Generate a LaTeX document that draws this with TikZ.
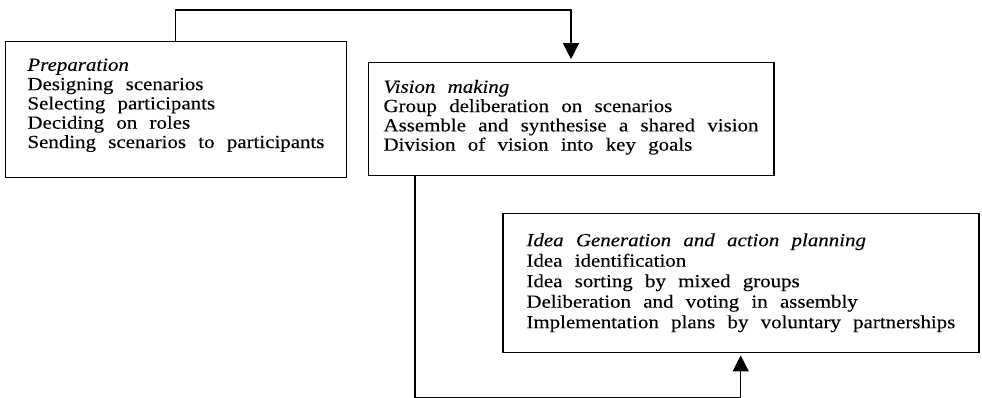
\documentclass[tikz,border=0pt]{standalone}
\usepackage{fontspec}
\setmainfont{Liberation Serif}[FakeStretch=1.13,WordSpace=2.35,FakeBold=0.2]
\usetikzlibrary{arrows.meta}
\newcommand{\lowstrut}[1]{\rule[-#1]{0pt}{#1}}
\begin{document}
\begin{tikzpicture}[x=1pt,y=-1pt,
  box/.style={draw, line width=1.2pt, anchor=north west, align=left, inner sep=0pt},
  txt/.style={font=\fontsize{18.5}{19.3}\selectfont},
  link/.style={line width=1.2pt},
  tip/.style={-{Triangle[width=16pt,length=16pt]}, shorten >=2.5pt}]
\useasboundingbox (0,0) rectangle (982,398);
\node[box, txt, minimum width=340.7pt, minimum height=136pt] (prep) at (5,40.7)
  {\textit{Preparation}\\Designing scenarios\\Selecting participants\\Deciding on roles\\Sending scenarios to participants\lowstrut{12pt}};
\node[box, txt, minimum width=405.8pt, minimum height=113pt] (vision) at (367.5,61.7)
  {\textit{Vision making}\\Group deliberation on scenarios\\Assemble and synthesise a shared vision\\Division of vision into key goals\lowstrut{7pt}};
\node[box, font=\fontsize{18.5}{20.5}\selectfont, minimum width=476pt, minimum height=139pt] (idea) at (502.3,212.7)
  {\textit{Idea Generation and action planning}\\Idea identification\\Idea sorting by mixed groups\\Deliberation and voting in assembly\\Implementation plans by voluntary partnerships};
\draw[link, tip] ([xshift=170.7pt]prep.north west) -- ++(0,-30.7) -| ([xshift=203.5pt]vision.north west);
\draw[link, tip] ([xshift=47.5pt]vision.south west) -- ++(0,221.8) -| ([xshift=238.4pt]idea.south west);
\end{tikzpicture}
\end{document}
